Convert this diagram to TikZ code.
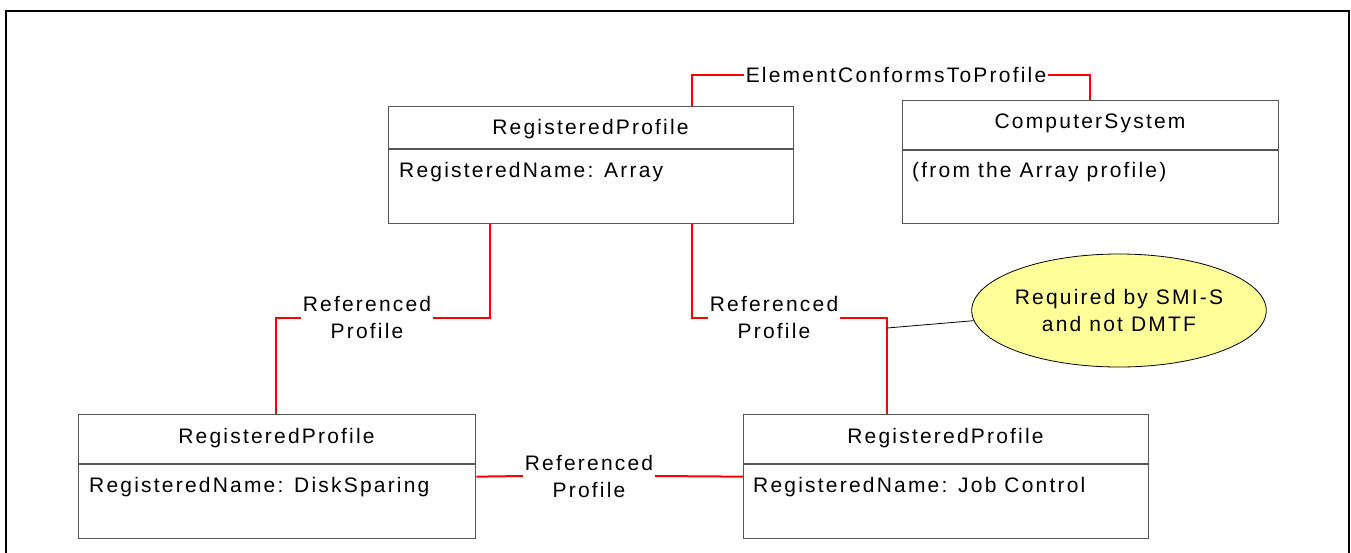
\documentclass[tikz,border=0pt]{standalone}
\usepackage{fontspec}
\setmainfont{Liberation Sans}[LetterSpace=10.5]
\usetikzlibrary{shapes.geometric}
\definecolor{notefill}{RGB}{255,255,153}
\definecolor{boxline}{RGB}{85,85,85}
\begin{document}
\begin{tikzpicture}[x=1pt,y=-1pt,
  every node/.style={font=\fontsize{21}{27}\selectfont, inner sep=0pt},
  umlbox/.style={draw=boxline, line width=1.3pt, anchor=north west},
  sepline/.style={draw=boxline, line width=1.3pt},
  boxtitle/.style={anchor=base},
  boxrow/.style={anchor=base west},
  conn/.style={draw=red, line width=2pt},
  lbl/.style={align=center, inner xsep=1.5pt, inner ysep=0pt},
  frame/.style={draw=black, line width=2.2pt},
  notebox/.style={ellipse, draw=black, line width=0.8pt, fill=notefill, minimum width=290pt, minimum height=113pt, align=center, inner sep=0pt}
]
\useasboundingbox (0,0) rectangle (1351,552);
\begin{scope}
  \clip (0,0) rectangle (1351,552);
  \draw[frame] (6,11) rectangle (1349,590);
\end{scope}

% Top RegisteredProfile (Array)
\node[umlbox, minimum width=405pt, minimum height=117pt] (arr) at (388,106) {};
\draw[sepline] (arr.west |- 0,149) -- (arr.east |- 0,149);
\node[boxtitle] (arrT) at (590.5,134) {RegisteredProfile};
\node[boxrow] (arrR) at (399,177) {RegisteredName: Array};

% ComputerSystem
\node[umlbox, minimum width=376pt, minimum height=123pt] (cs) at (902,100) {};
\draw[sepline] (cs.west |- 0,150) -- (cs.east |- 0,150);
\node[boxtitle] (csT) at (1090,128) {ComputerSystem};
\node[boxrow] (csR) at (912,177) {(from the Array profile)};

% DiskSparing
\node[umlbox, minimum width=397pt, minimum height=124pt] (ds) at (78,414) {};
\draw[sepline] (ds.west |- 0,464) -- (ds.east |- 0,464);
\node[boxtitle] (dsT) at (276.5,443) {RegisteredProfile};
\node[boxrow] (dsR) at (89,492) {RegisteredName: DiskSparing};

% Job Control
\node[umlbox, minimum width=405pt, minimum height=124pt] (jc) at (743,414) {};
\draw[sepline] (jc.west |- 0,464) -- (jc.east |- 0,464);
\node[boxtitle] (jcT) at (945.5,443) {RegisteredProfile};
\node[boxrow] (jcR) at (753,492) {RegisteredName: Job Control};

% Labels
\node[lbl] (ecp) at (896,74.5) {ElementConformsToProfile};
\node[lbl] (rp1) at (367,317.5) {Referenced\\Profile};
\node[lbl] (rp2) at (774,317.5) {Referenced\\Profile};
\node[lbl] (rp3) at (589,476) {Referenced\\Profile};

% Connectors
\draw[conn] (arr.north -| 692,0) |- (ecp.west);
\draw[conn] (ecp.east) -| (cs.north -| 1090,0);
\draw[conn] (arr.south -| 490,0) |- (rp1.east);
\draw[conn] (rp1.west) -| (ds.north -| 276,0);
\draw[conn] (arr.south -| 692,0) |- (rp2.west);
\draw[conn] (rp2.east) -| (jc.north -| 887,0);
\draw[conn] (ds.east) -- (rp3.west);
\draw[conn] (rp3.east) -- (jc.west);

% Note
\node[notebox] (note) at (1119,310.5) {Required by SMI-S\\and not DMTF};
\coordinate (tap) at (887,328);
\draw[black, line width=0.8pt] (tap) -- (note.184);
\end{tikzpicture}
\end{document}
